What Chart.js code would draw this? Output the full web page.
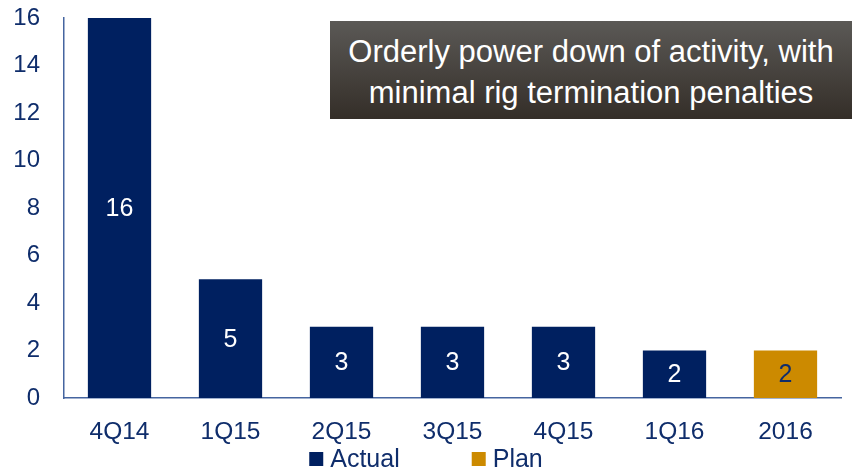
<!DOCTYPE html>
<html>
<head>
<meta charset="utf-8">
<script src="https://cdn.jsdelivr.net/npm/chart.js@4/dist/chart.umd.min.js"></script>
<style>
  body { margin: 0; background: #fff; }
  #wrap { position: relative; width: 852px; height: 472px; }
  #note {
    position: absolute; left: 330px; top: 21px; width: 522px; height: 98px;
    box-sizing: border-box; padding-top: 3px;
    background: linear-gradient(#5b5956, #342e28);
    color: #fff; font-family: "Liberation Sans", Arial, sans-serif;
    font-size: 31px; line-height: 41px; text-align: center;
    display: flex; align-items: center; justify-content: center;
  }
</style>
</head>
<body>
<div id="wrap">
  <canvas id="chart" width="852" height="472"></canvas>
  <div id="note">Orderly power down of activity, with<br>minimal rig termination penalties</div>
</div>
<script>
const quarters = ['4Q14', '1Q15', '2Q15', '3Q15', '4Q15', '1Q16', '2016'];
const actual = [16, 5, 3, 3, 3, 2, null];
const plan = [null, null, null, null, null, null, 2];
const yTicks = [0, 2, 4, 6, 8, 10, 12, 14, 16];

const navy = '#002060';
const gold = '#cc8a00';
const textBlue = '#0f2d6b';
const font = 'Liberation Sans';

// value inside each bar
const valueLabels = {
  id: 'valueLabels',
  afterDatasetsDraw(chart) {
    const ctx = chart.ctx;
    ctx.save();
    ctx.font = '25px "' + font + '"';
    ctx.textAlign = 'center';
    ctx.textBaseline = 'middle';
    chart.data.datasets.forEach((ds, i) => {
      chart.getDatasetMeta(i).data.forEach((bar, j) => {
        if (ds.data[j] == null) return;
        ctx.fillStyle = i == 0 ? '#ffffff' : textBlue;
        ctx.fillText(ds.data[j], bar.x, (bar.y + bar.base) / 2 + 1);
      });
    });
    ctx.restore();
  }
};

// legend under the axis labels
const bottomLegend = {
  id: 'bottomLegend',
  afterDraw(chart) {
    const ctx = chart.ctx;
    ctx.save();
    ctx.font = '25px "' + font + '"';
    ctx.textBaseline = 'middle';
    const box = 14, gap = 7, spacing = 72;
    const items = chart.data.datasets.map(ds => ({
      label: ds.label, color: ds.backgroundColor, w: ctx.measureText(ds.label).width
    }));
    let total = 0;
    items.forEach((it, i) => { total += box + gap + it.w + (i ? spacing : 0); });
    let x = chart.width / 2 - total / 2;
    const y = 459;
    items.forEach(it => {
      ctx.fillStyle = it.color;
      ctx.fillRect(x, y - box / 2, box, box);
      ctx.fillStyle = textBlue;
      ctx.fillText(it.label, x + box + gap, y + 1);
      x += box + gap + it.w + spacing;
    });
    ctx.restore();
  }
};

new Chart(document.getElementById('chart'), {
  type: 'bar',
  data: {
    labels: quarters,
    datasets: [
      { label: 'Actual', data: actual, backgroundColor: navy, barPercentage: 0.57, categoryPercentage: 1 },
      { label: 'Plan', data: plan, backgroundColor: gold, barPercentage: 0.57, categoryPercentage: 1 }
    ]
  },
  options: {
    responsive: false,
    animation: false,
    layout: { padding: { left: 0, right: 11, top: 18, bottom: 0 } },
    plugins: { legend: { display: false }, tooltip: { enabled: false } },
    scales: {
      x: {
        stacked: true,
        grid: { display: false },
        border: { display: true, color: '#4565a0', width: 1.5 },
        ticks: { color: textBlue, font: { family: font, size: 24.5 }, padding: 12 },
        afterFit(s) { s.height = 74; s.paddingLeft = 0; s.paddingRight = 0; }
      },
      y: {
        stacked: true,
        min: 0,
        max: 16,
        grid: { display: false },
        border: { display: true, color: '#4565a0', width: 1.5 },
        afterBuildTicks(s) { s.ticks = yTicks.map(v => ({ value: v })); },
        ticks: { color: textBlue, font: { family: font, size: 24 }, padding: 16 },
        afterFit(s) { s.width = 64; s.paddingTop = 0; s.paddingBottom = 0; }
      }
    }
  },
  plugins: [valueLabels, bottomLegend]
});
</script>
</body>
</html>
